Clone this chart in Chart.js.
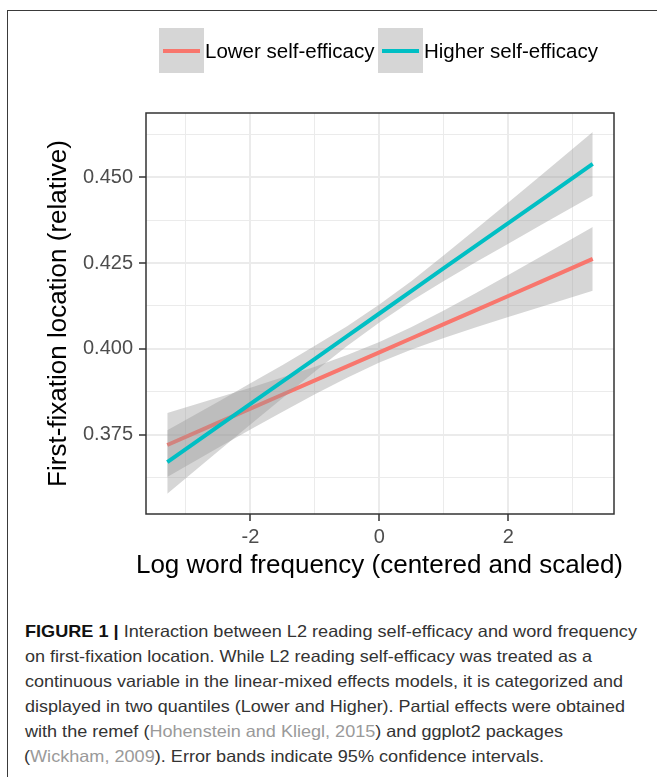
<!DOCTYPE html>
<html>
<head>
<meta charset="utf-8">
<script src="https://cdn.jsdelivr.net/npm/chart.js@4.4.1/dist/chart.umd.min.js"></script>
<style>
html,body{margin:0;padding:0;background:#fff;}
body{width:657px;height:777px;position:relative;overflow:hidden;font-family:"Liberation Sans",Arial,Helvetica,sans-serif;}
#frame{position:absolute;left:7px;top:10px;width:760px;height:900px;border-left:1px solid #3a3a3a;border-top:1px solid #3a3a3a;}
#chartwrap{position:absolute;left:0;top:0;width:657px;height:600px;}
.key{position:absolute;top:28px;width:45px;height:45px;background:#D6D6D6;}
.key i{position:absolute;left:4px;top:20.5px;width:37px;height:4px;}
.ltxt{position:absolute;top:38px;font-size:20.5px;line-height:26px;color:#000;white-space:nowrap;}
#xtitle{position:absolute;left:0;width:759px;top:549px;text-align:center;font-size:26px;line-height:30px;color:#000;white-space:nowrap;}
.cap{position:absolute;left:25px;font-family:"Liberation Sans Narrow","Liberation Sans",Arial,sans-serif;font-size:16.5px;line-height:20px;color:#333;white-space:nowrap;transform-origin:0 50%;}
.cap b{color:#111;}
.ref{color:#9a9a9a;}
</style>
</head>
<body>
<div id="frame"></div>
<div id="chartwrap"><canvas id="c" width="657" height="600"></canvas></div>

<div class="key" style="left:159px"><i style="background:#F8766D"></i></div>
<div class="ltxt" style="left:205px" id="lg0"></div>
<div class="key" style="left:378px"><i style="background:#00BFC4"></i></div>
<div class="ltxt" style="left:424px" id="lg1"></div>

<div id="xtitle"></div>

<div class="cap" data-w="612" style="top:621px"><b>FIGURE 1 |</b> Interaction between L2 reading self-efficacy and word frequency</div>
<div class="cap" data-w="567" style="top:646px">on first-fixation location. While L2 reading self-efficacy was treated as a</div>
<div class="cap" data-w="598" style="top:671px">continuous variable in the linear-mixed effects models, it is categorized and</div>
<div class="cap" data-w="600" style="top:696px">displayed in two quantiles (Lower and Higher). Partial effects were obtained</div>
<div class="cap" data-w="538" style="top:721px">with the remef (<span class="ref">Hohenstein and Kliegl, 2015</span>) and ggplot2 packages</div>
<div class="cap" data-w="520" style="top:746px;left:24px">(<span class="ref">Wickham, 2009</span>). Error bands indicate 95% confidence intervals.</div>

<script>
// ---- data ----
const seriesNames = ["Lower self-efficacy", "Higher self-efficacy"];
const logFreq     = [-3.29, -2.5, -2, -1.5, -1, -0.5, 0, 0.5, 1, 1.5, 2, 2.5, 3.31];

const lowerFit   = [0.3720, 0.3785, 0.3826, 0.3867, 0.3908, 0.3949, 0.3990, 0.4031, 0.4072, 0.4113, 0.4154, 0.4195, 0.4262];
const lowerLo    = [0.3627, 0.3712, 0.3765, 0.3817, 0.3868, 0.3916, 0.3960, 0.3998, 0.4032, 0.4063, 0.4093, 0.4122, 0.4169];
const lowerHi    = [0.3813, 0.3858, 0.3887, 0.3917, 0.3948, 0.3982, 0.4020, 0.4064, 0.4112, 0.4163, 0.4215, 0.4268, 0.4355];

const higherFit  = [0.3670, 0.3774, 0.3840, 0.3905, 0.3971, 0.4037, 0.4103, 0.4169, 0.4235, 0.4301, 0.4366, 0.4432, 0.4539];
const higherLo   = [0.3578, 0.3702, 0.3780, 0.3857, 0.3934, 0.4008, 0.4077, 0.4140, 0.4198, 0.4253, 0.4306, 0.4360, 0.4446];
const higherHi   = [0.3763, 0.3846, 0.3900, 0.3953, 0.4009, 0.4066, 0.4129, 0.4198, 0.4273, 0.4349, 0.4426, 0.4504, 0.4632];

const xMajorTicks = [-2, 0, 2];
const xMinorTicks = [-3, -1, 1, 3];
const yMajorTicks = [0.375, 0.400, 0.425, 0.450];
const yMinorTicks = [0.3625, 0.3875, 0.4125, 0.4375, 0.4625];

const xTitle = "Log word frequency (centered and scaled)";
const yTitle = "First-fixation location (relative)";

document.getElementById('lg0').textContent = seriesNames[0];
document.getElementById('lg1').textContent = seriesNames[1];
document.getElementById('xtitle').textContent = xTitle;

// ---- helpers ----
const pts = arr => logFreq.map((x, i) => ({x: x, y: arr[i]}));
const isIn = (list, v) => list.some(t => Math.abs(t - v) < 1e-9);
const band = 'rgba(153,153,153,0.4)';
const FONT = '"Liberation Sans", Arial, sans-serif';

const frameBox = {
  id: 'frameBox',
  afterDatasetsDraw(chart) {
    const a = chart.chartArea, ctx = chart.ctx;
    ctx.save();
    ctx.strokeStyle = '#333333';
    ctx.lineWidth = 1.5;
    ctx.strokeRect(a.left, a.top, a.right - a.left, a.bottom - a.top);
    ctx.restore();
  }
};

const gridCfg = (major) => ({
  color: '#EBEBEB',
  lineWidth: c => (c.tick && isIn(major, c.tick.value)) ? 2 : 1,
  tickColor: c => (c.tick && isIn(major, c.tick.value)) ? '#333333' : 'rgba(0,0,0,0)',
  tickWidth: 1.5,
  tickLength: 7,
  drawTicks: true
});

new Chart(document.getElementById('c'), {
  type: 'line',
  data: {
    datasets: [
      {label: seriesNames[1], data: pts(higherFit), borderColor: '#00BFC4', borderWidth: 4, pointRadius: 0, fill: false, order: 0},
      {label: 'hi-up', data: pts(higherHi), borderColor: 'transparent', borderWidth: 0, pointRadius: 0, backgroundColor: band, fill: 2, order: 1},
      {label: 'hi-lo', data: pts(higherLo), borderColor: 'transparent', borderWidth: 0, pointRadius: 0, fill: false, order: 2},
      {label: seriesNames[0], data: pts(lowerFit), borderColor: '#F8766D', borderWidth: 4, pointRadius: 0, fill: false, order: 3},
      {label: 'lo-up', data: pts(lowerHi), borderColor: 'transparent', borderWidth: 0, pointRadius: 0, backgroundColor: band, fill: 5, order: 4},
      {label: 'lo-lo', data: pts(lowerLo), borderColor: 'transparent', borderWidth: 0, pointRadius: 0, fill: false, order: 5}
    ]
  },
  options: {
    responsive: false,
    animation: false,
    devicePixelRatio: 1,
    layout: {padding: {left: 0, right: 43, top: 113, bottom: 16}},
    plugins: {legend: {display: false}, tooltip: {enabled: false}},
    elements: {line: {tension: 0, borderCapStyle: 'butt'}},
    scales: {
      x: {
        type: 'linear', min: -3.62, max: 3.64,
        afterBuildTicks: s => { s.ticks = xMajorTicks.concat(xMinorTicks).sort((a,b)=>a-b).map(v => ({value: v})); },
        afterFit: s => { s.height = 70; },
        border: {display: false},
        grid: gridCfg(xMajorTicks),
        ticks: {autoSkip: false, maxRotation: 0, padding: 4, color: '#4D4D4D', font: {family: FONT, size: 20},
                callback: v => isIn(xMajorTicks, v) ? String(v) : ''},
        title: {display: false, text: xTitle}
      },
      y: {
        type: 'linear', min: 0.3519, max: 0.4687,
        afterBuildTicks: s => { s.ticks = yMajorTicks.concat(yMinorTicks).sort((a,b)=>a-b).map(v => ({value: v})); },
        afterFit: s => { s.width = 146; },
        border: {display: false},
        grid: gridCfg(yMajorTicks),
        ticks: {autoSkip: false, padding: 6, color: '#4D4D4D', font: {family: FONT, size: 20},
                callback: v => isIn(yMajorTicks, v) ? v.toFixed(3) : ''},
        title: {display: true, text: yTitle, color: '#000', font: {family: FONT, size: 26}, padding: {top: 43, bottom: 0}}
      }
    }
  },
  plugins: [frameBox]
});

// fit caption lines to the widths measured on the reference
function fitCaption() {
  document.querySelectorAll('.cap').forEach(el => {
    el.style.transform = 'none';
    const w = el.getBoundingClientRect().width;
    const target = parseFloat(el.dataset.w);
    if (w > 0) el.style.transform = 'scaleX(' + (target / w).toFixed(4) + ')';
  });
}
fitCaption();
if (document.fonts && document.fonts.ready) document.fonts.ready.then(fitCaption);
</script>
</body>
</html>
